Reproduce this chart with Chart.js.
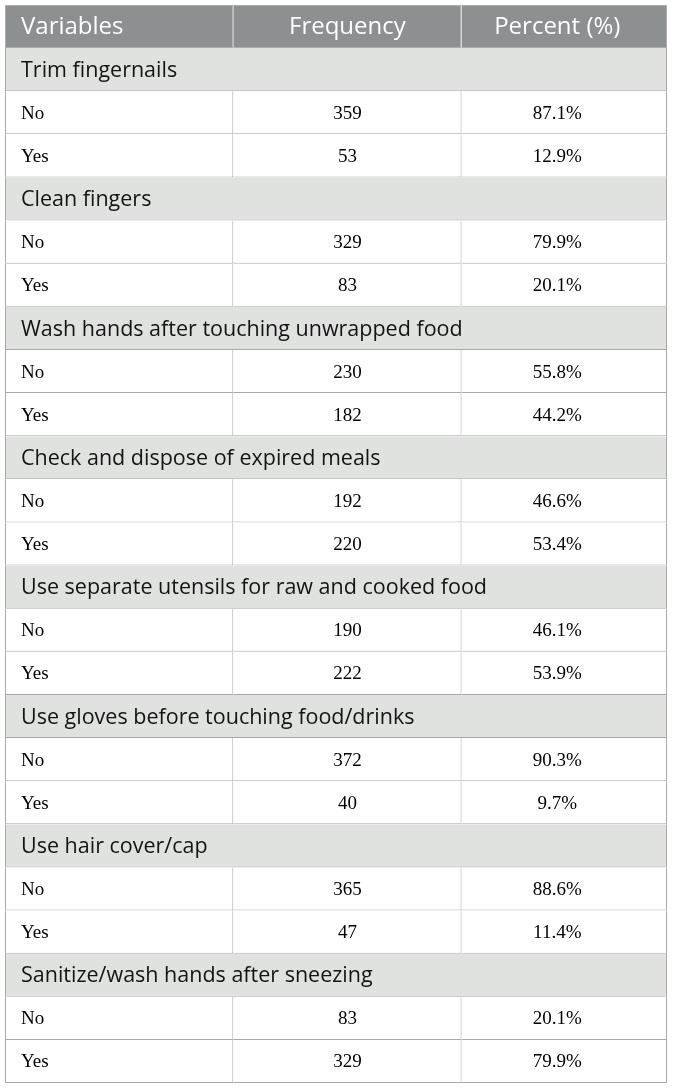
<!DOCTYPE html>
<html>
<head>
<meta charset="utf-8">
<script src="https://cdn.jsdelivr.net/npm/chart.js@4.4.1/dist/chart.umd.min.js"></script>
<style>
  html, body { margin: 0; padding: 0; background: #ffffff; }
  canvas { display: block; }
</style>
</head>
<body>
<canvas id="chart" width="673" height="1088"></canvas>
<script>
// Table content
const columnHeaders = ['Variables', 'Frequency', 'Percent (%)'];
const variables = [
    'Trim fingernails',
    'Clean fingers',
    'Wash hands after touching unwrapped food',
    'Check and dispose of expired meals',
    'Use separate utensils for raw and cooked food',
    'Use gloves before touching food/drinks',
    'Use hair cover/cap',
    'Sanitize/wash hands after sneezing'
];
const responses = ['No', 'Yes'];
const frequencyNo = [359, 329, 230, 192, 190, 372, 365, 83];
const frequencyYes = [53, 83, 182, 220, 222, 40, 47, 329];
const percentNo = [87.1, 79.9, 55.8, 46.6, 46.1, 90.3, 88.6, 20.1];
const percentYes = [12.9, 20.1, 44.2, 53.4, 53.9, 9.7, 11.4, 79.9];

// Column spans on the x scale
const colEdges = [0, 1, 2, 2.9];

// Build rows: header, then a section row and two answer rows per variable
const rows = [{ type: 'header', cells: columnHeaders }];
variables.forEach((v, i) => {
    rows.push({ type: 'section', cells: [v] });
    rows.push({ type: 'data', cells: [responses[0], String(frequencyNo[i]), percentNo[i].toFixed(1) + '%'] });
    rows.push({ type: 'data', cells: [responses[1], String(frequencyYes[i]), percentYes[i].toFixed(1) + '%'] });
});
const rowLabels = rows.map((r, i) => i);

const fills = { header: '#8c9091', section: '#e0e2e0', data: '#ffffff' };
const lines = { header: '#a9adae', section: '#a8aaa8', data: '#a8aaa8' };

function columnDataset(col) {
    return {
        label: columnHeaders[col],
        data: rows.map(r => {
            if (r.type === 'section') {
                return col === 0 ? [colEdges[0], colEdges[3]] : null;
            }
            return [colEdges[col], colEdges[col + 1]];
        }),
        cellText: rows.map(r => r.cells[col] || ''),
        backgroundColor: c => fills[rows[c.dataIndex].type],
        borderColor: c => lines[rows[c.dataIndex].type],
        borderWidth: c => ({
            top: c.dataIndex === 0 ? 1 : 0,
            right: 1,
            bottom: 1,
            left: col === 0 ? 1 : 0
        }),
        borderSkipped: false,
        inflateAmount: 0,
        grouped: false,
        barPercentage: 1,
        categoryPercentage: 1
    };
}

// Draws the text of each cell at the middle of its bar
const cellTextPlugin = {
    id: 'cellText',
    afterDatasetsDraw(chart) {
        const ctx = chart.ctx;
        ctx.save();
        ctx.textBaseline = 'middle';
        chart.data.datasets.forEach((ds, col) => {
            const meta = chart.getDatasetMeta(col);
            meta.data.forEach((bar, i) => {
                const text = ds.cellText[i];
                if (!text || ds.data[i] === null) return;
                const { x, y, base } = bar.getProps(['x', 'y', 'base'], true);
                const type = rows[i].type;
                if (type === 'header') {
                    ctx.font = '24px "Open Sans"';
                    ctx.fillStyle = '#ffffff';
                } else if (type === 'section') {
                    ctx.font = '21.5px "Open Sans"';
                    ctx.fillStyle = '#141414';
                } else {
                    ctx.font = '19px "Liberation Serif"';
                    ctx.fillStyle = '#000000';
                }
                if (col === 0) {
                    ctx.textAlign = 'left';
                    ctx.fillText(text, Math.min(x, base) + 16, y + 1);
                } else {
                    ctx.textAlign = 'center';
                    const shift = col === 2 ? -7 : 0;
                    ctx.fillText(text, (x + base) / 2 + shift, y + 1);
                }
            });
        });
        ctx.restore();
    }
};

document.addEventListener('DOMContentLoaded', function() {
    const ctx = document.getElementById('chart').getContext('2d');
    new Chart(ctx, {
        type: 'bar',
        data: {
            labels: rowLabels,
            datasets: [columnDataset(0), columnDataset(1), columnDataset(2)]
        },
        options: {
            indexAxis: 'y',
            responsive: false,
            animation: false,
            devicePixelRatio: 1,
            layout: { padding: { left: 5, top: 5, right: 6, bottom: 5 } },
            plugins: {
                legend: { display: false },
                tooltip: { enabled: false },
                title: { display: false }
            },
            scales: {
                x: { type: 'linear', min: colEdges[0], max: colEdges[3], display: false },
                y: { type: 'category', display: false, offset: true }
            }
        },
        plugins: [cellTextPlugin]
    });
});
</script>
</body>
</html>
